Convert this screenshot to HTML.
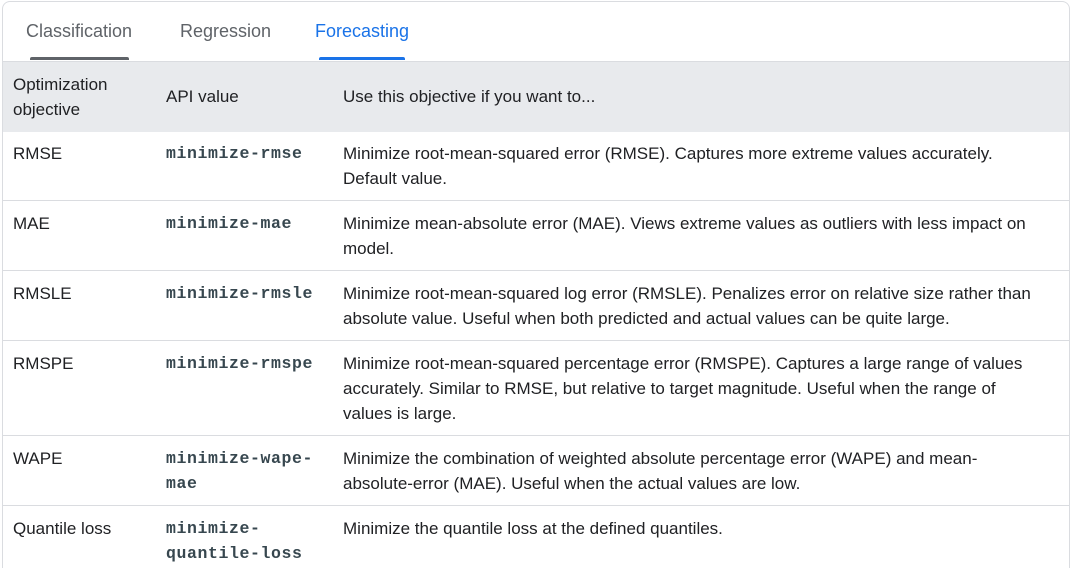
<!DOCTYPE html>
<html><head><meta charset="utf-8"><style>
html,body{margin:0;width:1070px;height:570px;background:#fff;overflow:hidden;font-family:"Liberation Sans",sans-serif;color:#202124;}
.card{position:absolute;left:2px;top:1px;width:1066px;height:566px;border:1px solid #dadce0;border-bottom:none;border-radius:8px 8px 0 0;}
.t{position:absolute;white-space:nowrap;font-size:17px;line-height:25px;}
.m{position:absolute;white-space:nowrap;font-family:"Liberation Mono",monospace;font-size:16.5px;letter-spacing:0.6px;line-height:25px;color:#37474f;font-weight:bold;}
.hl{position:absolute;left:3px;width:1066px;height:1px;background:#dadce0;}
.tab{position:absolute;top:21px;font-size:18px;color:#5f6368;white-space:nowrap;}
</style></head><body>
<div class="card"></div>
<div class="tab" style="left:26px">Classification</div>
<div class="tab" style="left:180px">Regression</div>
<div class="tab" style="left:315px;color:#1a73e8">Forecasting</div>
<div style="position:absolute;left:30px;top:57px;width:99px;height:3px;background:#5f6368;border-radius:2px 2px 0 0"></div>
<div style="position:absolute;left:319px;top:57px;width:86px;height:3px;background:#1a73e8;border-radius:2px 2px 0 0"></div>
<div style="position:absolute;left:3px;top:61px;width:1066px;height:70px;background:#e8eaed;border-top:1px solid #dadce0"></div>
<div class="t" style="left:13px;top:72px">Optimization<br>objective</div>
<div class="t" style="left:166px;top:84px">API value</div>
<div class="t" style="left:343px;top:84px">Use this objective if you want to...</div>

<div class="t" style="left:13px;top:141px">RMSE</div>
<div class="m" style="left:166px;top:141px">minimize-rmse</div>
<div class="t" style="left:343px;top:141px">Minimize root-mean-squared error (RMSE). Captures more extreme values accurately.<br>Default value.</div>
<div class="hl" style="top:200px"></div>

<div class="t" style="left:13px;top:211px">MAE</div>
<div class="m" style="left:166px;top:211px">minimize-mae</div>
<div class="t" style="left:343px;top:211px">Minimize mean-absolute error (MAE). Views extreme values as outliers with less impact on<br>model.</div>
<div class="hl" style="top:270px"></div>

<div class="t" style="left:13px;top:281px">RMSLE</div>
<div class="m" style="left:166px;top:281px">minimize-rmsle</div>
<div class="t" style="left:343px;top:281px">Minimize root-mean-squared log error (RMSLE). Penalizes error on relative size rather than<br>absolute value. Useful when both predicted and actual values can be quite large.</div>
<div class="hl" style="top:340px"></div>

<div class="t" style="left:13px;top:351px">RMSPE</div>
<div class="m" style="left:166px;top:351px">minimize-rmspe</div>
<div class="t" style="left:343px;top:351px">Minimize root-mean-squared percentage error (RMSPE). Captures a large range of values<br>accurately. Similar to RMSE, but relative to target magnitude. Useful when the range of<br>values is large.</div>
<div class="hl" style="top:435px"></div>

<div class="t" style="left:13px;top:446px">WAPE</div>
<div class="m" style="left:166px;top:446px">minimize-wape-<br>mae</div>
<div class="t" style="left:343px;top:446px">Minimize the combination of weighted absolute percentage error (WAPE) and mean-<br>absolute-error (MAE). Useful when the actual values are low.</div>
<div class="hl" style="top:505px"></div>

<div class="t" style="left:13px;top:516px">Quantile loss</div>
<div class="m" style="left:166px;top:516px">minimize-<br>quantile-loss</div>
<div class="t" style="left:343px;top:516px">Minimize the quantile loss at the defined quantiles.</div>
</body></html>
